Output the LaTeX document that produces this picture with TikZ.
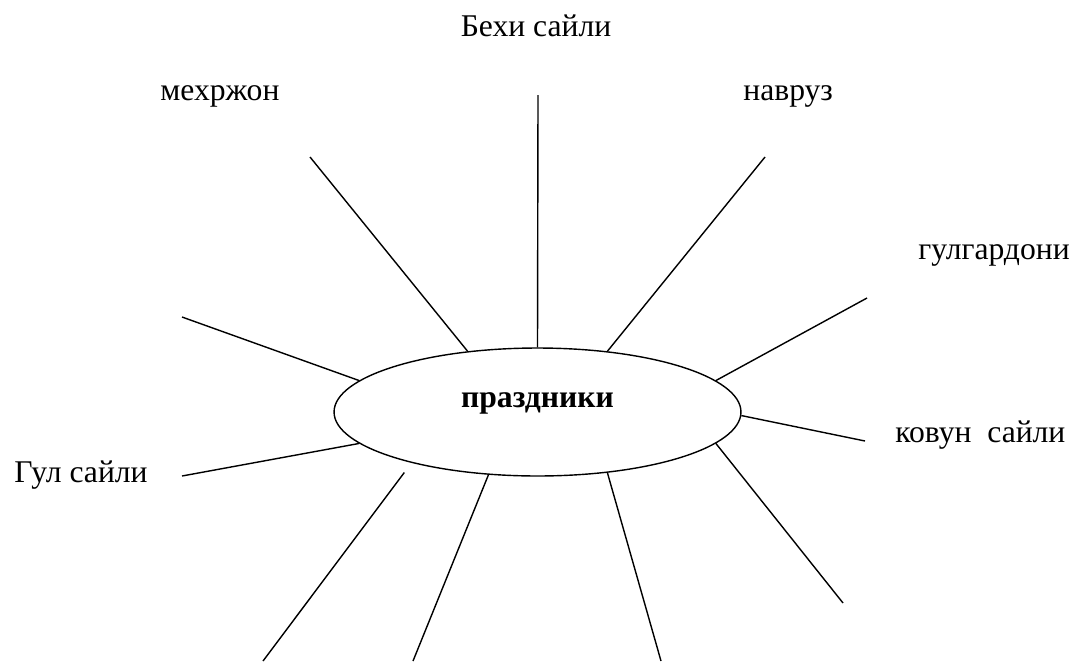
\documentclass[tikz,border=0pt]{standalone}
\usepackage{fontspec}
\setmainfont{Liberation Serif}
\usetikzlibrary{shapes.geometric}

\tikzset{
  ray/.style={line width=0.8pt},
  lbl/.style={inner sep=0pt, font=\fontsize{18}{22}\selectfont}
}

\begin{document}
\begin{tikzpicture}[x=0.02cm, y=-0.02cm]
\useasboundingbox (0,0) rectangle (1077,663);

% central ellipse
\node[draw, ray, ellipse, inner sep=0pt, minimum width=8.14cm, minimum height=2.56cm] (fest) at (537.5,412) {};
\node[lbl, anchor=base, font=\fontsize{18}{22}\selectfont\bfseries] (festname) at (537.5,407) {праздники};

% free ends of the rays
\coordinate (eTop) at (538,95);
\coordinate (eUL) at (310,157);
\coordinate (eUR) at (765,157);
\coordinate (eRU) at (867,298);
\coordinate (eR) at (865,441);
\coordinate (eRL) at (843,603);
\coordinate (eBR) at (661,661);
\coordinate (eB) at (413,661);
\coordinate (eBL) at (263,661);
\coordinate (eLL) at (182,476);
\coordinate (eLU) at (182,317);

\draw[ray] (fest.90) -- (eTop);
\draw[ray] (fest.139) -- (eUL);
\draw[ray] (fest.41) -- (eUR);
\draw[ray] (fest.10.5) -- (eRU);
\draw[ray] (fest.-1) -- (eR);
\draw[ray] (fest.-10.5) -- (eRL);
\draw[ray] (fest.-41) -- (eBR);
\draw[ray] (fest.-128) -- (eB);
\draw[ray, shorten <=0.24cm] (fest.-158) -- (eBL);
\draw[ray] (fest.190) -- (eLL);
\draw[ray] (fest.170) -- (eLU);

% labels
\node[lbl, anchor=base] (bekhi) at (536,36) {Бехи сайли};
\node[lbl, anchor=base west] (mehr) at (160,100) {мехржон};
\node[lbl, anchor=base west] (navruz) at (743,100) {навруз};
\node[lbl, anchor=base west] (gulg) at (918,259) {гулгардони};
\node[lbl, anchor=base west] (kovun) at (895,442) {ковун\ \ сайли};
\node[lbl, anchor=base east] (gul) at (148,482) {Гул сайли};
\end{tikzpicture}
\end{document}
